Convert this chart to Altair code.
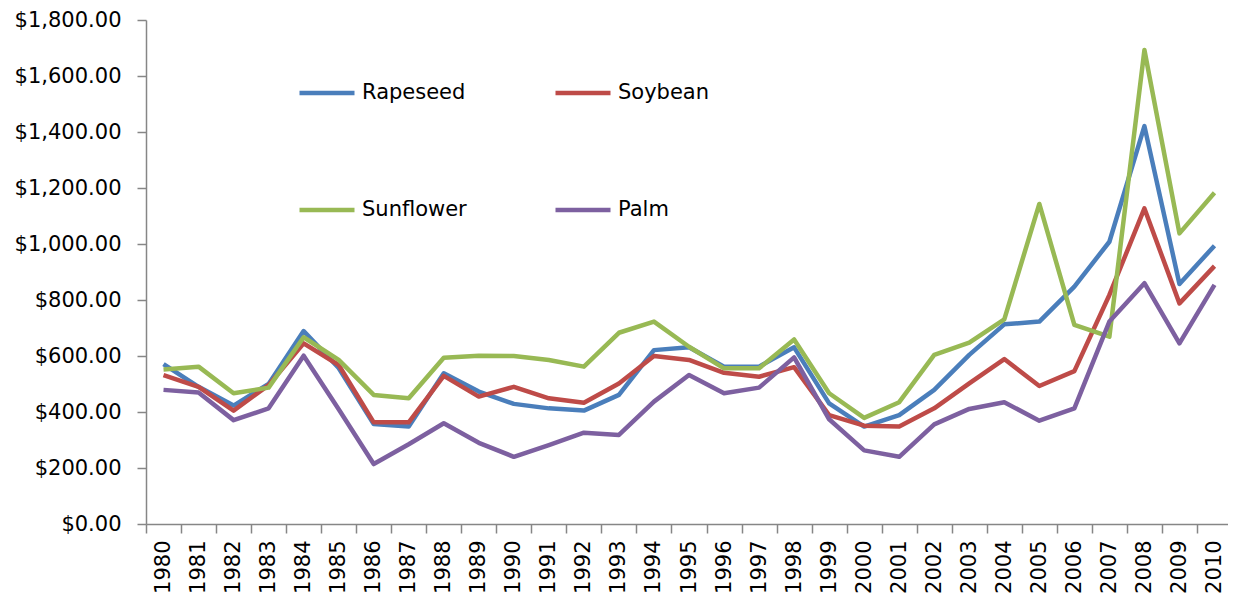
import altair as alt
import pandas as pd

years = [str(y) for y in range(1980, 2011)]
series_names = ["Rapeseed", "Soybean", "Sunflower", "Palm"]
series_colors = ["#4A7EBB", "#BE4B48", "#98B954", "#7D60A0"]

rapeseed = [571, 490, 423, 500, 689, 557, 357, 348, 538, 473, 429, 413, 405, 461, 621, 631,
            562, 562, 631, 431, 348, 389, 479, 604, 713, 723, 848, 1008, 1421, 857, 994]
soybean = [532, 490, 405, 496, 645, 568, 363, 363, 529, 455, 490, 449, 433, 502, 600, 586,
           540, 526, 560, 389, 351, 348, 413, 502, 589, 493, 546, 818, 1127, 788, 921]
sunflower = [552, 562, 467, 487, 667, 586, 461, 449, 594, 601, 600, 586, 562, 683, 723, 633,
             556, 556, 659, 467, 379, 435, 604, 648, 731, 1143, 711, 669, 1693, 1038, 1183]
palm = [479, 470, 371, 413, 601, 410, 214, 285, 360, 290, 240, 282, 326, 318, 437, 532,
        467, 487, 595, 374, 263, 240, 356, 411, 435, 369, 413, 723, 860, 645, 854]

y_ticks = [0, 200, 400, 600, 800, 1000, 1200, 1400, 1600, 1800]

values = {"Rapeseed": rapeseed, "Soybean": soybean, "Sunflower": sunflower, "Palm": palm}
rows = []
for s in series_names:
    for yr, v in zip(years, values[s]):
        rows.append({"year": yr, "price": v, "series": s})
df = pd.DataFrame(rows)

FONT = "DejaVu Sans"
AXIS_COL = "#868686"

x_enc = alt.X(
    "year:O",
    sort=years,
    title=None,
    scale=alt.Scale(type="band", paddingInner=0, paddingOuter=0, range=[0, 1086]),
    axis=alt.Axis(
        labelAngle=-90,
        labelFont=FONT,
        labelFontSize=21,
        labelColor="#000000",
        labelPadding=7,
        tickBand="extent",
        tickSize=9,
        tickColor=AXIS_COL,
        domainColor=AXIS_COL,
        domainWidth=1.5,
        tickWidth=1.5,
        grid=False,
        labelOverlap=False,
    ),
)
y_enc = alt.Y(
    "price:Q",
    title=None,
    scale=alt.Scale(domain=[0, 1800], nice=False),
    axis=alt.Axis(
        values=y_ticks,
        format="$,.2f",
        labelFont=FONT,
        labelFontSize=21,
        labelColor="#000000",
        labelPadding=16,
        tickSize=9,
        tickColor=AXIS_COL,
        domainColor=AXIS_COL,
        domainWidth=1.5,
        tickWidth=1.5,
        grid=False,
    ),
)
color_enc = alt.Color(
    "series:N",
    title=None,
    scale=alt.Scale(domain=series_names, range=series_colors),
    legend=alt.Legend(
        orient="none",
        direction="horizontal",
        legendX=151,
        legendY=43,
        columns=2,
        symbolType="stroke",
        symbolSize=3025,
        symbolStrokeWidth=4.5,
        labelFont=FONT,
        labelFontSize=21,
        labelColor="#000000",
        labelOffset=5,
        labelLimit=300,
        columnPadding=79,
        rowPadding=77,
        padding=0,
    ),
)

layers = []
for s in series_names:
    layers.append(
        alt.Chart(df)
        .transform_filter(alt.datum.series == s)
        .mark_line(strokeWidth=4.5, strokeJoin="round")
        .encode(x=x_enc, y=y_enc, color=color_enc)
    )

chart = (
    alt.layer(*layers)
    .properties(
        width=1082,
        height=504,
        autosize=alt.AutoSizeParams(type="none"),
        padding={"left": 138, "top": 12, "right": 0, "bottom": 73},
        background="#ffffff",
    )
    .configure_view(stroke=None)
)

chart.save("out.html", embed_options={"renderer": "svg", "actions": False})
